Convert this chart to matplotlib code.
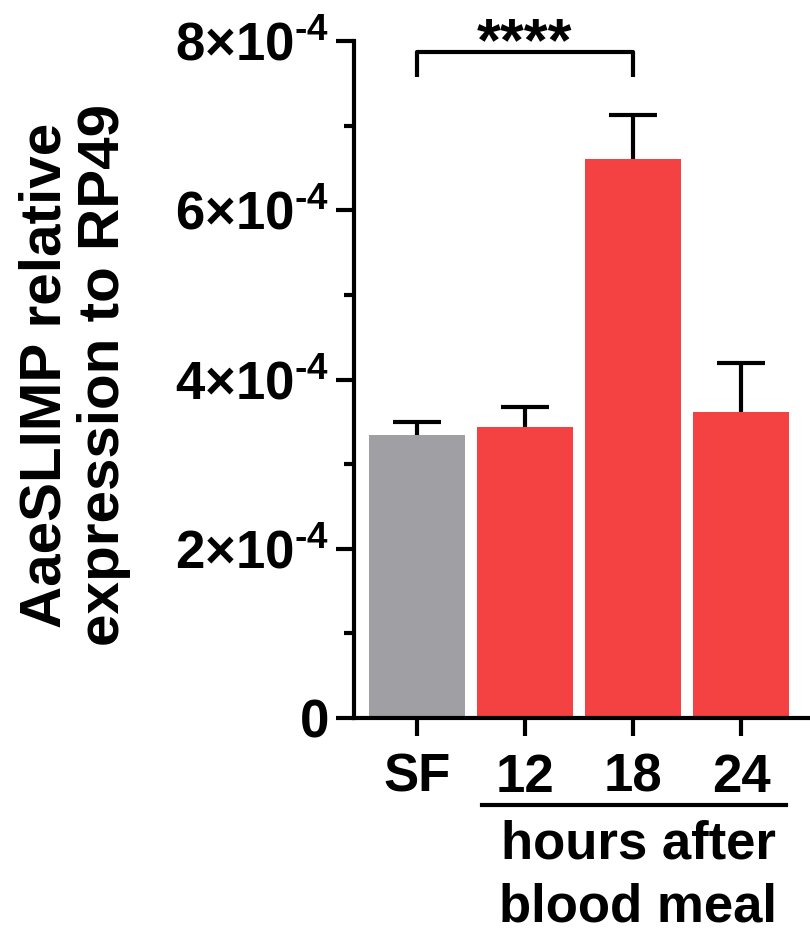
import numpy as np
import matplotlib
matplotlib.use('Agg')
from matplotlib import pyplot as plt
from matplotlib import transforms

plt.rcParams['font.family'] = ['Liberation Sans', 'DejaVu Sans']
plt.rcParams['font.weight'] = 'bold'
plt.rcParams['mathtext.fontset'] = 'custom'
plt.rcParams['mathtext.rm'] = 'Liberation Sans:bold'
plt.rcParams['mathtext.bf'] = 'Liberation Sans:bold'

# data
groups = ['SF', '12', '18', '24']
means = [3.35e-4, 3.44e-4, 6.61e-4, 3.62e-4]
errs = [0.15e-4, 0.23e-4, 0.52e-4, 0.58e-4]
colors = ['#a0a0a4', '#f44141', '#f44141', '#f44141']
yticks = [0, 2e-4, 4e-4, 6e-4, 8e-4]
ytick_labels = ['0'] + [r'$\mathbf{%d{\times}10^{\text{-4}}}$' % v for v in [2, 4, 6, 8]]

fig = plt.figure(figsize=(8.1, 9.33), dpi=100)
ax = fig.add_axes([0.437, 0.2304, 0.562, 0.7256])

x = np.arange(len(groups))
ax.bar(x, means, width=0.89, color=colors, edgecolor='none', zorder=2)
# only the upper half of the error bar
eb = ax.errorbar(x, means, yerr=[np.zeros(len(errs)), errs], fmt='none',
                 ecolor='black', elinewidth=3, capsize=17, capthick=3, zorder=3)
eb[1][0].set_visible(False)

ax.set_xlim(-0.58, 3.63)
ax.set_ylim(0, 8e-4)

for s in ['top', 'right']:
    ax.spines[s].set_visible(False)
for s in ['left', 'bottom']:
    ax.spines[s].set_linewidth(3)

ax.set_yticks(yticks)
ax.set_yticklabels(ytick_labels, fontsize=38)
ax.set_yticks([1e-4, 3e-4, 5e-4, 7e-4], minor=True)
ax.tick_params(axis='y', which='major', length=13, width=3, pad=5)
ax.tick_params(axis='y', which='minor', length=7, width=3)
ax.set_xticks(x)
ax.set_xticklabels(groups, fontsize=38)
ax.tick_params(axis='x', length=13, width=3, pad=12)

# significance bracket SF vs 18
ytop = 7.87e-4
ax.plot([0, 0, 2, 2], [7.57e-4, ytop, ytop, 7.57e-4], color='black', lw=3,
        clip_on=False, solid_capstyle='butt')
ax.text(1, 7.77e-4, '****', ha='center', va='baseline', fontsize=44,
        fontweight='bold', clip_on=False)

# group line and label under hours
trans = transforms.blended_transform_factory(ax.transData, ax.transAxes)
ax.plot([0.6, 3.42], [-0.1285, -0.1285], color='black', lw=3,
        transform=trans, clip_on=False)
ax.text(2.05, -0.150, 'hours after\nblood meal', transform=trans,
        ha='center', va='top', fontsize=38, fontweight='bold', linespacing=1.32)

fig.text(0.0926, 0.598, 'AaeSLIMP relative\nexpression to RP49', rotation=90,
         ha='center', va='center', multialignment='center', fontsize=42,
         fontweight='bold', linespacing=1.1)

fig.savefig('out.png', dpi=100)
